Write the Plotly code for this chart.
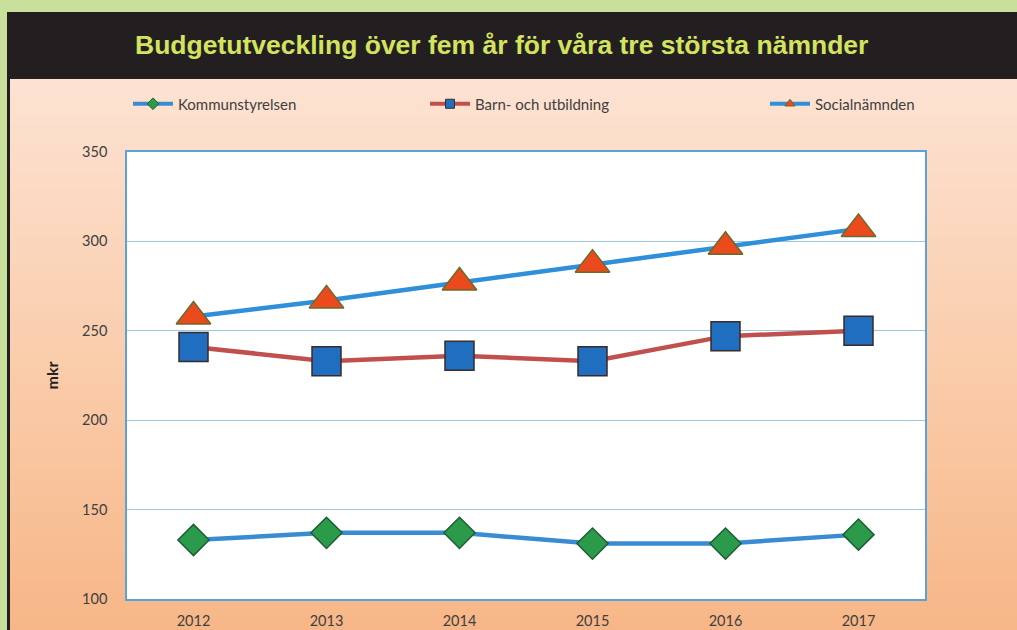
import plotly.graph_objects as go

years = ["2012", "2013", "2014", "2015", "2016", "2017"]
kommunstyrelsen = [133, 137, 137, 131, 131, 136]
barn_utbildning = [241, 233, 236, 233, 247, 250]
socialnamnden = [258, 267, 277, 287, 297, 307]
y_ticks = [100, 150, 200, 250, 300, 350]

W, H = 1017, 630
L, R, T, B = 127, 925, 152, 599  # plot area in px


def px(x):
    return (x - L) / (R - L)


def py(y):
    return (B - y) / (B - T)


series = [
    ("Kommunstyrelsen", kommunstyrelsen, "#3a8cd2",
     dict(symbol="diamond", size=24, color="#2b9a4a", line=dict(color="#1d5e34", width=1.5)),
     "legend"),
    ("Barn- och utbildning", barn_utbildning, "#c0504d",
     dict(symbol="square", size=29, color="#1f6ebf", line=dict(color="#3a2a2a", width=1.5)),
     "legend2"),
    ("Socialnämnden", socialnamnden, "#2f8fd8",
     dict(symbol="triangle-up", size=30, color="#ea4a1c", line=dict(color="#6b6a2a", width=1.5)),
     "legend3"),
]

fig = go.Figure()
for name, vals, lc, mk, lg in series:
    fig.add_trace(go.Scatter(
        x=years, y=vals, name=name, mode="lines+markers",
        line=dict(color=lc, width=4.5), marker=mk, showlegend=False))
    small = dict(mk)
    small["size"] = 9
    small["line"] = dict(color=mk["line"]["color"], width=1)
    fig.add_trace(go.Scatter(
        x=[years[0]], y=[None], name=name, mode="lines+markers",
        line=dict(color=lc, width=4), marker=small, legend=lg, showlegend=True))

shapes = []
# title band
shapes.append(dict(type="rect", xref="paper", yref="paper", layer="below",
                   x0=px(7), x1=px(W + 5), y0=py(79), y1=py(12),
                   fillcolor="#231f20", line=dict(width=0)))
# gradient background bands
top_c = (253, 226, 210)
mid_c = (250, 205, 172)
bot_c = (247, 182, 135)
n = 60
y_start, y_end = 79, H + 5
for i in range(n):
    t = i / (n - 1)
    if t < 0.5:
        a, b, u = top_c, mid_c, t / 0.5
    else:
        a, b, u = mid_c, bot_c, (t - 0.5) / 0.5
    c = tuple(int(round(a[k] + (b[k] - a[k]) * u)) for k in range(3))
    y0 = y_start + (y_end - y_start) * i / n
    y1 = y_start + (y_end - y_start) * (i + 1) / n + 0.5
    shapes.append(dict(type="rect", xref="paper", yref="paper", layer="below",
                       x0=px(10), x1=px(W + 5), y0=py(y1), y1=py(y0),
                       fillcolor="rgb(%d,%d,%d)" % c, line=dict(width=0)))
# left dark frame line
shapes.append(dict(type="rect", xref="paper", yref="paper", layer="below",
                   x0=px(7), x1=px(10), y0=py(H + 5), y1=py(12),
                   fillcolor="#231f20", line=dict(width=0)))
# white plot area
shapes.append(dict(type="rect", xref="paper", yref="paper", layer="below",
                   x0=0, x1=1, y0=0, y1=1,
                   fillcolor="#ffffff", line=dict(width=0)))

legend_common = dict(orientation="h", yanchor="middle", xanchor="left",
                     bgcolor="rgba(0,0,0,0)", itemwidth=40,
                     font=dict(family="Lato, Open Sans, sans-serif", size=15, color="#404040"))

tick_font = dict(family="Lato, Open Sans, sans-serif", size=14.5, color="#404040")

fig.update_layout(
    width=W, height=H,
    margin=dict(l=L, r=W - R, t=T, b=H - B, autoexpand=False),
    paper_bgcolor="#c9df9c",
    plot_bgcolor="#ffffff",
    shapes=shapes,
    showlegend=True,
    legend=dict(x=px(128), y=py(104), **legend_common),
    legend2=dict(x=px(425), y=py(104), **legend_common),
    legend3=dict(x=px(765), y=py(104), **legend_common),
    annotations=[
        dict(text="<b>Budgetutveckling över fem år för våra tre största nämnder</b>",
             xref="paper", yref="paper", x=px(501), y=py(45),
             xanchor="center", yanchor="middle", showarrow=False,
             font=dict(family="Liberation Sans, Arial, sans-serif", size=26.5, color="#d3e25f")),
    ],
    xaxis=dict(type="category", range=[-0.5, 5.5], showgrid=False, automargin=False,
               tickfont=tick_font,
               ticks="", showline=True, linecolor="#5aa2d8", linewidth=1.5, mirror=True,
               zeroline=False, ticklabelstandoff=8),
    yaxis=dict(range=[100, 350], tickvals=y_ticks, showgrid=True, automargin=False,
               gridcolor="#9fc6dc", gridwidth=1.2,
               tickfont=tick_font,
               ticks="", showline=True, linecolor="#5aa2d8", linewidth=1.5, mirror=True,
               zeroline=False, ticklabelstandoff=15,
               title=dict(text="<b>mkr</b>", standoff=20,
                          font=dict(family="Lato, Open Sans, sans-serif", size=16, color="#222222"))),
)

fig.write_html("out.html", config={"displayModeBar": False},
               post_script="document.body.style.margin='0';")
